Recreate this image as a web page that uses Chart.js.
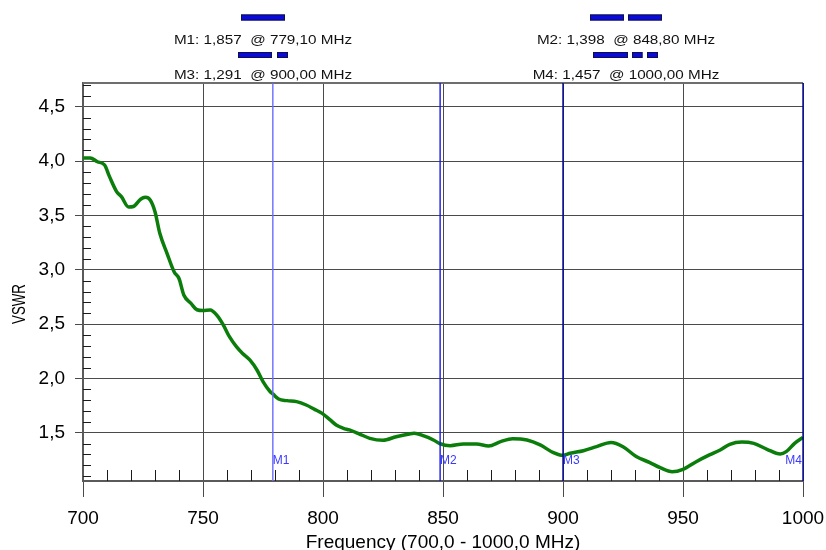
<!DOCTYPE html>
<html><head><meta charset="utf-8">
<script src="https://cdn.jsdelivr.net/npm/chart.js@4.4.1/dist/chart.umd.min.js"></script>
<style>html,body{margin:0;padding:0;background:#fff}#wrap{width:826px;height:550px;position:relative}</style>
</head><body><div id="wrap"><canvas id="c"></canvas></div>
<script>
const freqMHz = [700,703,706,709,711,714,716,719,721,724,726,728,730,732,735,738,740,742,745,747.5,
  750,753,756,758.5,761,764,766.5,769.5,772.5,775,778,779.1,781.5,785,789,793,796.5,799.5,803,805.5,
  808.5,811,815,819.5,825,830.5,836,838,842,846,848.8,853,858.5,864,869,874,879,885,890.5,896,
  900,903,908.5,914,920,925,930.5,936,940.5,945.5,950,955.5,961,965.5,969.5,974.5,979.5,985,990.5,993,
  996.5,1000];
const vswr = [4.03,4.03,3.995,3.965,3.86,3.72,3.673,3.578,3.583,3.65,3.667,3.643,3.535,3.336,3.152,2.98,2.92,2.768,2.69,2.632,
  2.625,2.63,2.575,2.49,2.384,2.29,2.23,2.17,2.077,1.97,1.877,1.857,1.81,1.795,1.786,1.755,1.715,1.68,1.617,1.57,
  1.54,1.525,1.49,1.448,1.43,1.463,1.488,1.494,1.47,1.433,1.398,1.38,1.396,1.396,1.378,1.417,1.445,1.433,1.387,1.316,
  1.291,1.31,1.334,1.371,1.41,1.371,1.28,1.227,1.178,1.141,1.163,1.233,1.295,1.341,1.393,1.414,1.402,1.347,1.304,1.325,
  1.402,1.457];
const xTicks = [700,750,800,850,900,950,1000];
const yTicks = [1.5,2.0,2.5,3.0,3.5,4.0,4.5];
const markerNames = ['M1','M2','M3','M4'];
const markerFreq = [779.10, 848.80, 900.00, 1000.00];
const markerVswr = [1.857, 1.398, 1.291, 1.457];
const xTitle = 'Frequency (700,0 - 1000,0 MHz)';
const yTitle = 'VSWR';

const FONT = '"Liberation Sans", Arial, Helvetica, sans-serif';
const comma = (v,d) => v.toFixed(d).replace('.', ',');

// styling for marker lines / legend swatches
const markerColors = ['#6a6aff','#1818e8','#00009c','#00009c'];
const legendCenters = [[263,44],[626,44],[263,79],[626,79]];
const legendBars = [ [[-22,44]], [[-36,34],[2,34]], [[-25,34],[14,11]], [[-33,35],[6,10.5],[21,11]] ];

const overlay = {
  id:'overlay',
  beforeDatasetsDraw(chart){
    const {ctx, chartArea:a, scales:{x,y}} = chart;
    ctx.save();
    ctx.strokeStyle='#1a1a1a'; ctx.lineWidth=1;
    ctx.beginPath();
    for (let f=710; f<1000; f+=10){
      if (f%50===0) continue;
      const px=Math.round(x.getPixelForValue(f))+0.5;
      ctx.moveTo(px,a.bottom); ctx.lineTo(px,a.bottom-11);
    }
    for (let i=11;i<=47;i++){
      if (i%5===0) continue;
      const py=Math.round(y.getPixelForValue(i/10))+0.5;
      ctx.moveTo(a.left,py); ctx.lineTo(a.left+8,py);
    }
    ctx.stroke();
    ctx.strokeStyle='#6e6e6e'; ctx.lineWidth=2;
    ctx.beginPath(); ctx.moveTo(a.left,a.top); ctx.lineTo(a.right,a.top); ctx.stroke();
    ctx.restore();
  },
  afterDatasetsDraw(chart){
    const {ctx, chartArea:a, scales:{x}} = chart;
    ctx.save();
    markerFreq.forEach((f,i)=>{
      const px = x.getPixelForValue(f);
      ctx.strokeStyle = markerColors[i]; ctx.lineWidth = 1.4;
      ctx.beginPath(); ctx.moveTo(px,a.top); ctx.lineTo(px,a.bottom); ctx.stroke();
      ctx.fillStyle = '#3a3aff';
      ctx.font = '12px ' + FONT;
      ctx.textBaseline = 'alphabetic';
      const last = px >= a.right - 1;
      ctx.textAlign = last ? 'right' : 'left';
      ctx.fillText(markerNames[i], last ? px-1 : px, 464);
    });
    ctx.restore();
  },
  afterDraw(chart){
    const {ctx} = chart;
    ctx.save();
    markerNames.forEach((n,i)=>{
      const [cx,by] = legendCenters[i];
      const barTop = i < 2 ? 14.5 : 52;
      legendBars[i].forEach(([off,len])=>{
        ctx.fillStyle = '#0a0ae0';
        ctx.fillRect(cx+off, barTop, len, 6);
        ctx.strokeStyle = '#101040'; ctx.lineWidth = 1;
        ctx.strokeRect(cx+off+0.5, barTop+0.5, len-1, 5);
      });
      const txt = n + ': ' + comma(markerVswr[i],3) + '  @ ' + comma(markerFreq[i],2) + ' MHz';
      ctx.save();
      ctx.translate(cx, by);
      ctx.scale(1.22, 1);
      ctx.font = '12.5px ' + FONT;
      ctx.fillStyle = '#111';
      ctx.textAlign = 'center';
      ctx.textBaseline = 'alphabetic';
      ctx.fillText(txt, 0, 0);
      ctx.restore();
    });
    // x title
    ctx.font = '19px ' + FONT;
    ctx.fillStyle = '#000';
    ctx.textAlign = 'center';
    ctx.textBaseline = 'alphabetic';
    ctx.fillText(xTitle, 443, 548);
    // y title
    ctx.save();
    ctx.translate(20, 304);
    ctx.rotate(-Math.PI/2);
    ctx.scale(0.7, 1);
    ctx.font = '19px ' + FONT;
    ctx.textAlign = 'center';
    ctx.textBaseline = 'middle';
    ctx.fillText(yTitle, 0, 0);
    ctx.restore();
    ctx.restore();
  }
};

new Chart(document.getElementById('c'), {
  type:'line',
  data:{ datasets:[{
    data: freqMHz.map((f,i)=>({x:f, y:vswr[i]})),
    borderColor:'#0b7d0b', borderWidth:3.5, pointRadius:0,
    cubicInterpolationMode:'monotone', fill:false
  }]},
  options:{
    responsive:true, maintainAspectRatio:false, animation:false,
    layout:{padding:{top:83,right:23,left:0,bottom:0}},
    plugins:{legend:{display:false}, tooltip:{enabled:false}},
    scales:{
      x:{
        type:'linear', min:700, max:1000,
        afterBuildTicks:s=>{ s.ticks = xTicks.map(v=>({value:v})); },
        afterFit:s=>{ s.height = 69; s.paddingLeft = 0; s.paddingRight = 0; },
        grid:{color:'#4a4a4a', lineWidth:1, tickLength:16},
        border:{color:'#5a5a5a', width:2},
        ticks:{color:'#000', font:{family:FONT, size:19}, padding:10, maxRotation:0, autoSkip:false,
               callback:v=>String(v)}
      },
      y:{
        type:'linear', min:1.055, max:4.72,
        afterBuildTicks:s=>{ s.ticks = yTicks.map(v=>({value:v})); },
        afterFit:s=>{ s.width = 83; s.paddingTop = 0; s.paddingBottom = 0; },
        grid:{color:'#4a4a4a', lineWidth:1, tickLength:8},
        border:{color:'#5a5a5a', width:2},
        ticks:{color:'#000', font:{family:FONT, size:19}, padding:10, callback:v=>comma(v,1)}
      }
    }
  },
  plugins:[overlay]
});
</script>
</body></html>
